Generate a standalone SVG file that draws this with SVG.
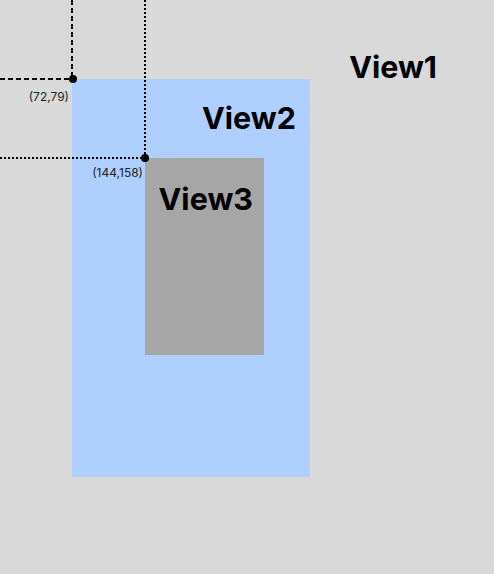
<svg xmlns="http://www.w3.org/2000/svg" width="494" height="574" viewBox="0 0 494 574">
<style>
.title{font-family:Inter,"Liberation Sans",sans-serif;font-weight:bold;font-size:30.5px;fill:#000;text-anchor:end}
.coord{font-family:Inter,"Liberation Sans",sans-serif;font-size:12px;fill:#222;text-anchor:end}
.dash{stroke:#000;stroke-width:2;fill:none;stroke-dasharray:5 3}
.dot{stroke:#000;stroke-width:2;fill:none;stroke-dasharray:2 2}
</style>
<rect x="0" y="0" width="494" height="574" fill="#d9d9d9"/>
<g id="view1">
<text class="title" x="437" y="78">View1</text>
</g>
<g id="view2">
<rect x="72" y="79" width="238" height="398" fill="#aecfff"/>
<text class="title" x="296" y="129">View2</text>
</g>
<g id="view3">
<rect x="145" y="158" width="119" height="197" fill="#a6a6a6"/>
<text class="title" x="253" y="210">View3</text>
</g>
<g id="connectors">
<line class="dash" x1="0" y1="79" x2="72" y2="79"/>
<line class="dash" x1="72" y1="0" x2="72" y2="79"/>
<line class="dot" x1="0" y1="158" x2="145" y2="158"/>
<line class="dot" x1="145" y1="0" x2="145" y2="158"/>
<circle cx="73" cy="79" r="4" fill="#000"/>
<circle cx="145" cy="158" r="4" fill="#000"/>
<text class="coord" x="69" y="101">(72,79)</text>
<text class="coord" x="143" y="177">(144,158)</text>
</g>
</svg>
